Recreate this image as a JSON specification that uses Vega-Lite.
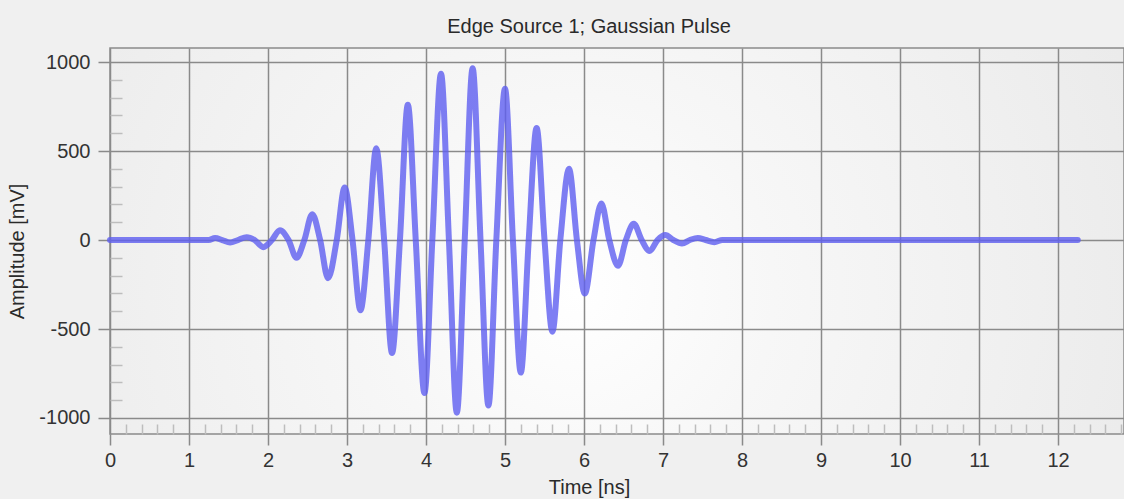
{
  "$schema": "https://vega.github.io/schema/vega-lite/v6.json",
  "width": 1014,
  "height": 386,
  "autosize": {"type": "none"},
  "padding": {"left": 110, "top": 48, "right": 0, "bottom": 65},
  "background": "#f0f0f0",
  "title": {
    "text": "Edge Source 1; Gaussian Pulse",
    "anchor": "middle",
    "frame": "group",
    "dx": -28,
    "offset": 1,
    "baseline": "middle",
    "fontSize": 20,
    "fontWeight": "normal",
    "font": "Liberation Sans",
    "color": "#2a2a2a"
  },
  "data": {
    "values": [
      {"t": 0, "a": 0},
      {"t": 1.25, "a": 0},
      {"t": 1.33, "a": 12},
      {"t": 1.42, "a": 0},
      {"t": 1.52, "a": -14},
      {"t": 1.62, "a": 0},
      {"t": 1.73, "a": 16},
      {"t": 1.83, "a": 0},
      {"t": 1.94, "a": -40},
      {"t": 2.05, "a": 0},
      {"t": 2.15, "a": 55},
      {"t": 2.26, "a": 0},
      {"t": 2.36, "a": -100},
      {"t": 2.46, "a": 0},
      {"t": 2.56, "a": 145},
      {"t": 2.66, "a": 0},
      {"t": 2.76, "a": -215},
      {"t": 2.87, "a": 0},
      {"t": 2.97, "a": 295},
      {"t": 3.07, "a": 0},
      {"t": 3.17, "a": -395},
      {"t": 3.27, "a": 0},
      {"t": 3.37, "a": 515},
      {"t": 3.47, "a": 0},
      {"t": 3.57, "a": -635},
      {"t": 3.67, "a": 0},
      {"t": 3.77, "a": 760},
      {"t": 3.87, "a": 0},
      {"t": 3.98, "a": -860},
      {"t": 4.08, "a": 0},
      {"t": 4.19, "a": 935},
      {"t": 4.29, "a": 0},
      {"t": 4.39, "a": -970},
      {"t": 4.49, "a": 0},
      {"t": 4.59, "a": 965},
      {"t": 4.69, "a": 0},
      {"t": 4.79, "a": -930},
      {"t": 4.89, "a": 0},
      {"t": 5.0, "a": 850},
      {"t": 5.1, "a": 0},
      {"t": 5.2, "a": -745},
      {"t": 5.3, "a": 0},
      {"t": 5.4, "a": 630},
      {"t": 5.5, "a": 0},
      {"t": 5.6, "a": -515},
      {"t": 5.7, "a": 0},
      {"t": 5.81, "a": 400},
      {"t": 5.91, "a": 0},
      {"t": 6.01, "a": -300},
      {"t": 6.12, "a": 0},
      {"t": 6.22, "a": 205},
      {"t": 6.32, "a": 0},
      {"t": 6.43, "a": -145},
      {"t": 6.53, "a": 0},
      {"t": 6.63, "a": 92},
      {"t": 6.73, "a": 0},
      {"t": 6.83, "a": -62},
      {"t": 6.93, "a": 0},
      {"t": 7.03, "a": 28},
      {"t": 7.13, "a": 0},
      {"t": 7.24, "a": -20},
      {"t": 7.34, "a": 0},
      {"t": 7.44, "a": 12},
      {"t": 7.54, "a": 0},
      {"t": 7.65, "a": -12},
      {"t": 7.75, "a": 0},
      {"t": 12.25, "a": 0}
    ]
  },
  "mark": {
    "type": "line",
    "interpolate": "monotone",
    "color": "#5e5ef0",
    "opacity": 0.8,
    "strokeWidth": 6,
    "strokeCap": "round",
    "strokeJoin": "round"
  },
  "encoding": {
    "x": {
      "field": "t",
      "type": "quantitative",
      "scale": {"domain": [0, 12.835], "nice": false, "zero": false},
      "axis": {
        "title": "Time [ns]",
        "titleX": 479,
        "titleY": 53,
        "titleBaseline": "middle",
        "titleAlign": "center",
        "values": [0,0.2,0.4,0.6,0.8,1,1.2,1.4,1.6,1.8,2,2.2,2.4,2.6,2.8,3,3.2,3.4,3.6,3.8,4,4.2,4.4,4.6,4.8,5,5.2,5.4,5.6,5.8,6,6.2,6.4,6.6,6.8,7,7.2,7.4,7.6,7.8,8,8.2,8.4,8.6,8.8,9,9.2,9.4,9.6,9.8,10,10.2,10.4,10.6,10.8,11,11.2,11.4,11.6,11.8,12,12.2,12.4,12.6,12.8],
        "labelExpr": "datum.value % 1 === 0 ? '' + datum.value : ''",
        "grid": true,
        "gridColor": "#8a8a8a",
        "gridWidth": 1.5,
        "gridOpacity": {"condition": {"test": "datum.value % 1 !== 0", "value": 0}, "value": 1},
        "tickSize": {"condition": {"test": "datum.value % 1 !== 0", "value": -10}, "value": 11},
        "tickColor": {"condition": {"test": "datum.value % 1 !== 0", "value": "#bdbdbd"}, "value": "#8a8a8a"},
        "tickWidth": 1.5,
        "labelPadding": 5,
        "labelFlush": false,
        "labelOverlap": false,
        "domain": false
      }
    },
    "y": {
      "field": "a",
      "type": "quantitative",
      "scale": {"domain": [-1090, 1079], "nice": false, "zero": false},
      "axis": {
        "title": "Amplitude [mV]",
        "titleX": -92.5,
        "titleY": 203,
        "titleBaseline": "middle",
        "titleAlign": "center",
        "titleAngle": -90,
        "values": [-1000,-900,-800,-700,-600,-500,-400,-300,-200,-100,0,100,200,300,400,500,600,700,800,900,1000],
        "labelExpr": "datum.value % 500 === 0 ? '' + datum.value : ''",
        "grid": true,
        "gridColor": "#8a8a8a",
        "gridWidth": 1.5,
        "gridOpacity": {"condition": {"test": "datum.value % 500 !== 0", "value": 0}, "value": 1},
        "tickSize": {"condition": {"test": "datum.value % 500 !== 0", "value": -12}, "value": 12},
        "tickColor": {"condition": {"test": "datum.value % 500 !== 0", "value": "#bdbdbd"}, "value": "#8a8a8a"},
        "tickWidth": 1.5,
        "labelPadding": 8,
        "labelFlush": false,
        "labelOverlap": false,
        "domain": false
      }
    }
  },
  "config": {
    "font": "Liberation Sans",
    "view": {
      "stroke": "#8a8a8a",
      "strokeWidth": 1.5,
      "fill": {
        "gradient": "radial",
        "x1": 0.46, "y1": 0.55, "r1": 0,
        "x2": 0.46, "y2": 0.55, "r2": 0.65,
        "stops": [
          {"offset": 0, "color": "#ffffff"},
          {"offset": 0.3, "color": "#f7f7f7"},
          {"offset": 1, "color": "#e9e9e9"}
        ]
      }
    },
    "axis": {
      "labelFontSize": 20,
      "labelColor": "#333333",
      "titleFontSize": 20,
      "titleFontWeight": "normal",
      "titleColor": "#2a2a2a",
      "labelFont": "Liberation Sans",
      "titleFont": "Liberation Sans"
    }
  }
}
